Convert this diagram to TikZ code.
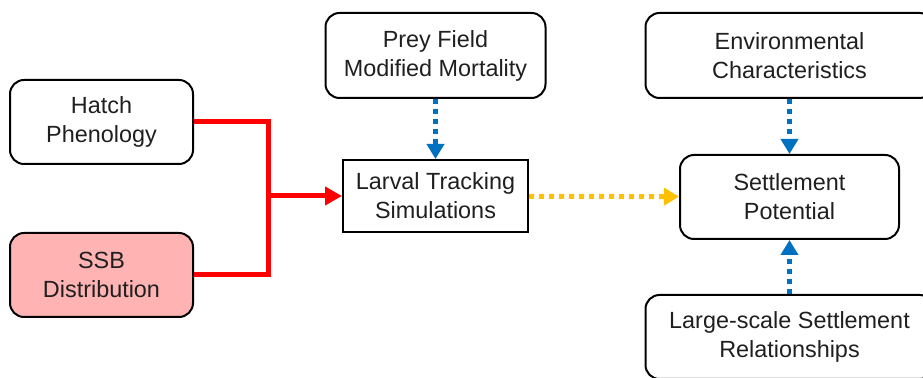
\documentclass[tikz,border=0pt]{standalone}
\usepackage{fontspec}
\setmainfont{Liberation Sans}
\usetikzlibrary{arrows.meta, positioning}

\definecolor{flowblue}{HTML}{0070C0}
\definecolor{flowgold}{HTML}{FFC000}
\definecolor{flowred}{HTML}{FF0000}
\definecolor{ssbpink}{HTML}{FFB3B3}

\begin{document}
\begin{tikzpicture}[>={Triangle[length=7.5pt,width=8.5pt]},
  font=\fontsize{11.7pt}{14.5pt}\selectfont, text=black!88,
  box/.style={draw=black,line width=1pt,align=center,inner sep=0pt},
  round box/.style={box,rounded corners=7pt},
  red link/.style={draw=flowred,line width=2.5pt},
  dot link/.style={line width=2.5pt,dash pattern=on 2.5pt off 2.5pt}]
  \useasboundingbox (0,0) rectangle (461.5pt,-189pt);
  \node[box,minimum width=92.5pt,minimum height=36pt] (larval) at (217.75pt,-98pt) {Larval Tracking\\Simulations};
  \node[round box,minimum width=91.5pt,minimum height=42pt] (hatch) [left of=larval,node distance=167pt,yshift=37pt] {Hatch\\Phenology};
  \node[round box,fill=ssbpink,minimum width=91.5pt,minimum height=42pt] (ssb) [left of=larval,node distance=167pt,yshift=-39.5pt] {SSB\\Distribution};
  \node[round box,minimum width=110pt,minimum height=42.5pt] (prey) [above of=larval,node distance=70.25pt] {Prey Field\\Modified Mortality};
  \node[round box,minimum width=109.5pt,minimum height=42pt] (settle) [right of=larval,node distance=177pt,yshift=-0.5pt] {Settlement\\Potential};
  \node[round box,minimum width=144pt,minimum height=42.5pt] (env) [above of=settle,node distance=70.75pt] {Environmental\\Characteristics};
  \node[round box,minimum width=144pt,minimum height=42pt] (large) [below of=settle,node distance=70pt] {Large-scale Settlement\\Relationships};
  \coordinate (join) at (134pt,-98pt);

  % inputs to the tracking runs
  \draw[red link] (hatch.east) -| (join) |- (ssb.east);
  \draw[red link,->,>={Triangle[length=8.5pt,width=9pt]}] (join) -- (larval);
  \draw[dot link,flowblue,->] (prey) -- (larval);

  % settlement side
  \draw[dot link,flowgold,->] (larval) -- (settle);
  \draw[dot link,flowblue,->] (env) -- (settle);
  \draw[dot link,flowblue,->] (large) -- (settle);
\end{tikzpicture}
\end{document}
